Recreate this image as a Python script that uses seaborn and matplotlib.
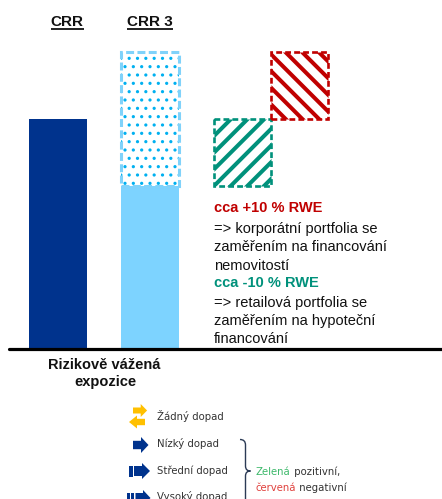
import numpy as np
import pandas as pd
import matplotlib
matplotlib.use("Agg")
import matplotlib.pyplot as plt
import seaborn as sns
from matplotlib.patches import Polygon, PathPatch
from matplotlib.path import Path

# ---------------- data ----------------
categories = ["CRR", "CRR 3"]
base_values = [100.0, 71.0]          # CRR total, CRR 3 solid (retail after decrease)
crr3_top = 129.0                     # CRR 3 upper (dotted) part
change_start = 100.0
green_change = -29.0                 # retail / mortgage portfolios
red_change = 29.0                    # corporate real-estate portfolios

change_titles = ["cca +10 % RWE", "cca -10 % RWE"]
red_desc = ["=> korporátní portfolia se", "zaměřením na financování", "nemovitostí"]
green_desc = ["=> retailová portfolia se", "zaměřením na hypoteční", "financování"]
axis_title = ["Rizikově vážená", "expozice"]
legend_items = ["Žádný dopad", "Nízký dopad", "Střední dopad", "Vysoký dopad"]

# ---------------- style ----------------
sns.set_theme(style="white")
plt.rcParams["font.family"] = ["Liberation Sans", "DejaVu Sans"]

DARK_BLUE = "#00338D"
LIGHT_BLUE = "#7DD3FF"
DOT_BLUE = "#00B0F0"
RED = "#C00000"
GREEN = "#00917B"
YELLOW = "#FFC000"
NAVY = "#00338D"

W, H = 442, 499
fig = plt.figure(figsize=(W / 100, H / 100), dpi=100)

ax = fig.add_axes([9 / W, (H - 349) / H, 433 / W, 349 / H])
df = pd.DataFrame({"cat": categories, "val": base_values})
sns.barplot(data=df, x="cat", y="val", hue="cat", palette=[DARK_BLUE, LIGHT_BLUE],
            width=0.64, saturation=1, legend=False, linewidth=0, ax=ax)

with plt.rc_context({"hatch.linewidth": 1.1}):
    ax.bar(1, crr3_top - base_values[1], bottom=base_values[1], width=0.64,
           color="white", edgecolor=DOT_BLUE, hatch="..", linewidth=0, zorder=3)
ax.bar(1, crr3_top - base_values[1], bottom=base_values[1], width=0.62,
       fill=False, edgecolor="#80D2FA", linewidth=2.2, linestyle=(0, (2.6, 1.1)), zorder=4)

with plt.rc_context({"hatch.linewidth": 2.9}):
    ax.bar(2.005, green_change, bottom=change_start, width=0.62, color="white",
           edgecolor=GREEN, hatch="//", linewidth=1.9, linestyle=(0, (2.2, 1.2)), zorder=3)
    ax.bar(2.625, red_change, bottom=change_start, width=0.62, color="white",
           edgecolor=RED, hatch="\\\\", linewidth=1.9, linestyle=(0, (2.2, 1.2)), zorder=3)

ax.axhline(0, color="black", lw=2.3, clip_on=False, zorder=5)
ax.set_xlim(-0.5326, 4.174)
ax.set_ylim(0, 151.74)
ax.axis("off")

# ---------------- overlay for texts & legend ----------------
ov = fig.add_axes([0, 0, 1, 1])
ov.set_xlim(0, W)
ov.set_ylim(H, 0)
ov.axis("off")

TXT = "#111111"
heads = []
for lab, xc in zip(categories, [67, 150]):
    t = ov.text(xc, 26, lab, ha="center", va="baseline", fontsize=11,
                fontweight="bold", color=TXT)
    heads.append(t)

ys = [212.5, 233, 251, 269.5]
ov.text(214, ys[0], change_titles[0], fontsize=10.5, fontweight="bold", color=RED, va="baseline")
for y, s in zip(ys[1:], red_desc):
    ov.text(214, y, s, fontsize=10.5, color=TXT, va="baseline")
ys2 = [287, 307, 325, 343]
ov.text(214, ys2[0], change_titles[1], fontsize=10.5, fontweight="bold", color=GREEN, va="baseline")
for y, s in zip(ys2[1:], green_desc):
    ov.text(214, y, s, fontsize=10.5, color=TXT, va="baseline")

ov.text(104, 369, axis_title[0], ha="center", va="baseline", fontsize=10.5,
        fontweight="bold", color=TXT)
ov.text(105, 386, axis_title[1], ha="center", va="baseline", fontsize=10.5,
        fontweight="bold", color=TXT)

# legend texts
LEG = "#333333"
for s, y in zip(legend_items, [420, 447, 474, 500]):
    ov.text(157, y, s, fontsize=7.3, family="DejaVu Sans", color=LEG, va="baseline")


def arrow(x0, yc, blen, bh, hlen, hh, color, direction=1):
    d = direction
    pts = [(x0, yc - bh), (x0 + d * blen, yc - bh), (x0 + d * blen, yc - hh),
           (x0 + d * (blen + hlen), yc), (x0 + d * blen, yc + hh),
           (x0 + d * blen, yc + bh), (x0, yc + bh)]
    ov.add_patch(Polygon(pts, closed=True, color=color, lw=0))


def bar_icon(x0, x1, yc, h, color):
    ov.add_patch(Polygon([(x0, yc - h), (x1, yc - h), (x1, yc + h), (x0, yc + h)],
                         closed=True, color=color, lw=0))


# Žádný dopad: yellow double arrow
arrow(133, 410.5, 7.7, 3.0, 6.4, 6.5, YELLOW, 1)
arrow(145, 422, 8, 3.2, 8, 6.5, YELLOW, -1)
# Nízký dopad
arrow(133, 445, 8, 4.2, 7.5, 8, NAVY, 1)
# Střední dopad
bar_icon(129.3, 132.7, 471, 5.5, NAVY)
arrow(134, 471, 8, 5, 8, 8, NAVY, 1)
# Vysoký dopad
bar_icon(126.5, 129.8, 498, 5.5, NAVY)
bar_icon(131, 134.3, 498, 5.5, NAVY)
arrow(135.5, 498, 7.5, 5, 7.5, 8, NAVY, 1)

# brace
verts = [(240, 439.5), (245.5, 439.5), (245.5, 445), (245.5, 466),
         (245.5, 471), (250.5, 471), (245.5, 471), (245.5, 476), (245.5, 510)]
codes = [Path.MOVETO, Path.CURVE3, Path.CURVE3, Path.LINETO,
         Path.CURVE3, Path.CURVE3, Path.CURVE3, Path.CURVE3, Path.LINETO]
ov.add_patch(PathPatch(Path(verts, codes), fill=False, edgecolor="#2B3A55", lw=1.0))

tz = ov.text(256, 475, "Zelená", fontsize=7.3, family="DejaVu Sans", color="#3CB86A", va="baseline")
tc = ov.text(256, 491, "červená", fontsize=7.3, family="DejaVu Sans", color="#E0403C", va="baseline")

fig.canvas.draw()
inv = ov.transData.inverted()
for t, rest in [(tz, " pozitivní,"), (tc, " negativní")]:
    bb = t.get_window_extent()
    x_end = inv.transform((bb.x1, bb.y0))[0]
    ov.text(x_end, t.get_position()[1], rest, fontsize=7.3, family="DejaVu Sans",
            color=LEG, va="baseline")

for t in heads:
    bb = t.get_window_extent()
    (xa, _), (xb, _) = inv.transform((bb.x0, 0)), inv.transform((bb.x1, 0))
    ov.plot([xa, xb], [28.5, 28.5], color=TXT, lw=1.3, solid_capstyle="butt")

fig.savefig("out.png", dpi=100)
